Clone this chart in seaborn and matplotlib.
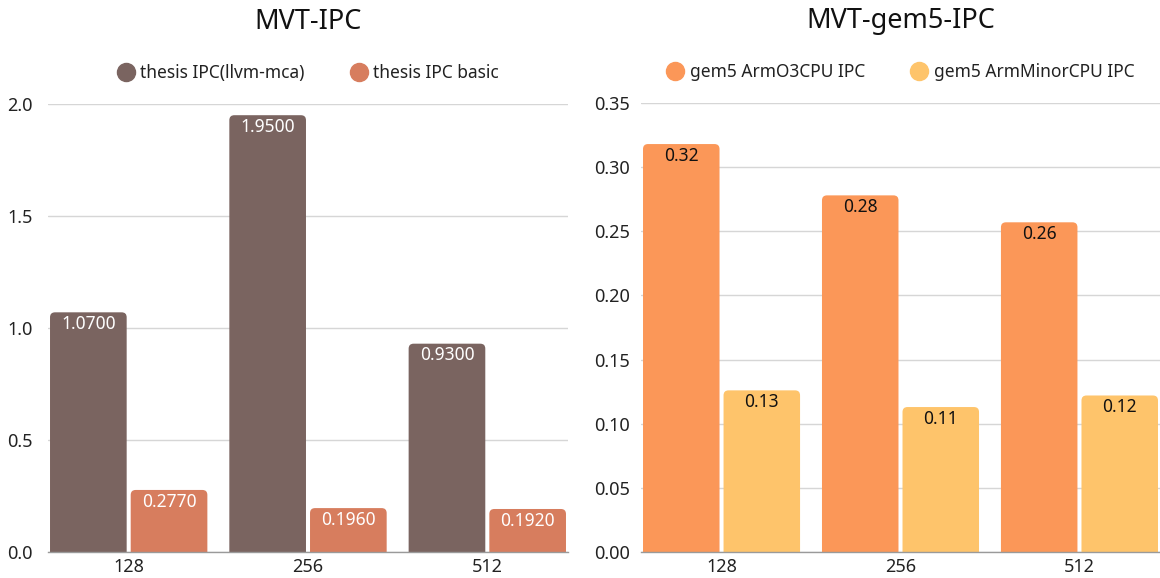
import matplotlib
matplotlib.use("Agg")
import matplotlib.pyplot as plt
from matplotlib.lines import Line2D
from matplotlib.patches import FancyBboxPatch
import pandas as pd
import seaborn as sns

# Vector sizes on the x axis
sizes = ["128", "256", "512"]

# Left panel: IPC estimated in the thesis
thesis_llvm_mca = [1.07, 1.95, 0.93]
thesis_basic = [0.277, 0.196, 0.192]
left_series = ["thesis IPC(llvm-mca)", "thesis IPC basic"]
left_ticks = [0.0, 0.5, 1.0, 1.5, 2.0]

# Right panel: IPC measured with gem5 CPU models
gem5_o3 = [0.318, 0.278, 0.257]
gem5_minor = [0.126, 0.113, 0.122]
right_series = ["gem5 ArmO3CPU IPC", "gem5 ArmMinorCPU IPC"]
right_ticks = [0.00, 0.05, 0.10, 0.15, 0.20, 0.25, 0.30, 0.35]

left_colors = ["#7A6460", "#D77D5E"]
right_colors = ["#FB9758", "#FEC46B"]

sns.set_theme(style="white")
plt.rcParams["font.family"] = ["Noto Sans", "DejaVu Sans"]

W, H = 1160, 578
fig = plt.figure(figsize=(W / 100, H / 100), dpi=100)
ax_l = fig.add_axes([48 / W, 26 / H, 520 / W, 448 / H])
ax_r = fig.add_axes([641 / W, 26 / H, 519 / W, 449 / H])


def long_form(first, second, names):
    return pd.DataFrame({
        "size": sizes * 2,
        "ipc": list(first) + list(second),
        "series": [names[0]] * len(sizes) + [names[1]] * len(sizes),
    })


def round_tops(ax, radius_px=5):
    """Swap each bar for a patch with rounded top corners."""
    fig.canvas.draw()
    bbox = ax.get_window_extent()
    x0, x1 = ax.get_xlim()
    y0, y1 = ax.get_ylim()
    xu = (x1 - x0) / bbox.width
    yu = (y1 - y0) / bbox.height
    r = radius_px * xu
    for container in ax.containers:
        for bar in container:
            x, w, h = bar.get_x(), bar.get_width(), bar.get_height()
            drop = radius_px * 2 * yu
            patch = FancyBboxPatch(
                (x, -drop), w, h + drop,
                boxstyle=f"round,pad=0,rounding_size={r}",
                mutation_aspect=yu / xu,
                facecolor=bar.get_facecolor(), edgecolor="none",
                linewidth=0, zorder=bar.get_zorder())
            ax.add_patch(patch)
            bar.set_visible(False)


def draw_panel(ax, df, names, colors, ticks, tick_fmt, value_fmt,
               label_color, title, ytick_pad):
    sns.barplot(data=df, x="size", y="ipc", hue="series", hue_order=names,
                order=sizes, palette=colors, width=0.9, gap=0.05,
                saturation=1, linewidth=0, legend=False, ax=ax)
    ax.set_xlim(-0.45, 2.45)
    ax.set_ylim(0, ticks[-1])
    ax.set_yticks(ticks)
    ax.set_yticklabels([tick_fmt.format(t) for t in ticks])
    ax.set_xlabel("")
    ax.set_ylabel("")
    ax.yaxis.grid(True, color="#D6D6D6", linewidth=1)
    ax.set_axisbelow(True)
    for side in ("left", "right", "top"):
        ax.spines[side].set_visible(False)
    ax.spines["bottom"].set_color("#9A9A9A")
    ax.spines["bottom"].set_linewidth(1)
    ax.tick_params(axis="y", length=0, labelsize=13, pad=ytick_pad,
                   labelcolor="#222222")
    ax.tick_params(axis="x", length=0, labelsize=13, pad=4,
                   labelcolor="#222222")

    # value labels just inside the top of every bar
    for container in ax.containers:
        for bar in container:
            h = bar.get_height()
            ax.annotate(value_fmt.format(h),
                        (bar.get_x() + bar.get_width() / 2, h),
                        xytext=(0, -8.5), textcoords="offset points",
                        ha="center", va="center", fontsize=12.5,
                        color=label_color, zorder=5)

    round_tops(ax)

    handles = [Line2D([], [], marker="o", linestyle="none", markersize=13,
                      markerfacecolor=c, markeredgecolor=c) for c in colors]
    ax.legend(handles, names, loc="center", bbox_to_anchor=(0.5, 1 + 31 / 449),
              ncol=2, frameon=False, fontsize=12.5, handletextpad=0.35,
              columnspacing=2.6, handlelength=1.0, labelcolor="#222222")
    ax.text(0.5, 1 + 82 / 449, title, transform=ax.transAxes,
            ha="center", va="center", fontsize=19.5, color="#111111")


draw_panel(ax_l, long_form(thesis_llvm_mca, thesis_basic, left_series),
           left_series, left_colors, left_ticks, "{:.1f}", "{:.4f}",
           "#FFFFFF", "MVT-IPC", 11)
draw_panel(ax_r, long_form(gem5_o3, gem5_minor, right_series),
           right_series, right_colors, right_ticks, "{:.2f}", "{:.2f}",
           "#111111", "MVT-gem5-IPC", 8)

fig.savefig("out.png", dpi=100)
